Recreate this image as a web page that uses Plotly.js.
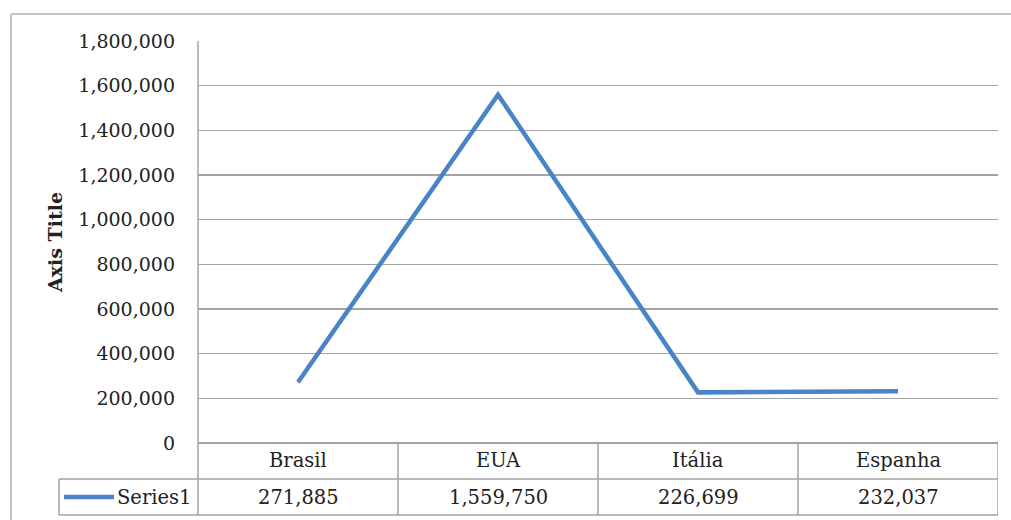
<!DOCTYPE html>
<html>
<head>
<meta charset="utf-8">
<script src="https://cdn.plot.ly/plotly-3.0.1.min.js"></script>
<style>html,body{margin:0;padding:0;background:#fff;}#chart{width:1011px;height:520px;}</style>
</head>
<body>
<div id="chart"></div>
<script>
var categories = ["Brasil", "EUA", "Itália", "Espanha"];
var seriesName = "Series1";
var values = [271885, 1559750, 226699, 232037];
var yTickVals = [0, 200000, 400000, 600000, 800000, 1000000, 1200000, 1400000, 1600000, 1800000];
var yTickText = ["0", "200,000", "400,000", "600,000", "800,000", "1,000,000", "1,200,000", "1,400,000", "1,600,000", "1,800,000"];
var yAxisTitle = "Axis Title";

var FONT = "DejaVu Serif, Liberation Serif, serif";
var lineColor = "#4a84c6";
var gridColor = "#a3a3a3";
var textColor = "#222222";

// pixel helpers (plot area: x 198..998, y 41..443)
var L = 198, R = 998, T = 41, B = 443;
function px(x){ return (x - L) / (R - L); }
function py(y){ return (B - y) / (B - T); }

var fmt = function(v){ return v.toLocaleString("en-US"); };
var idx = categories.map(function(_, i){ return i; });

var shapes = [];
var annotations = [];
var rowMid = py(479), rowBot = py(515);
var gw = 1.5;
// table horizontal lines
shapes.push({type:"line", xref:"paper", yref:"paper", x0:px(59), x1:1, y0:rowMid, y1:rowMid, line:{color:gridColor, width:gw}});
shapes.push({type:"line", xref:"paper", yref:"paper", x0:px(59), x1:1, y0:rowBot, y1:rowBot, line:{color:gridColor, width:gw}});
// table verticals
shapes.push({type:"line", xref:"paper", yref:"paper", x0:0, x1:0, y0:1, y1:rowBot, line:{color:gridColor, width:gw}});
shapes.push({type:"line", xref:"paper", yref:"paper", x0:px(59), x1:px(59), y0:rowMid, y1:rowBot, line:{color:gridColor, width:gw}});
for (var i = 0; i < categories.length; i++) {
  shapes.push({type:"line", xref:"x", yref:"paper", x0:i+0.5, x1:i+0.5, y0:0, y1:rowBot, line:{color:gridColor, width:gw}});
  annotations.push({xref:"x", yref:"paper", x:i, y:py(461), text:categories[i], showarrow:false, font:{family:FONT, size:19.5, color:textColor}, xanchor:"center", yanchor:"middle"});
  annotations.push({xref:"x", yref:"paper", x:i, y:py(497), text:fmt(values[i]), showarrow:false, font:{family:FONT, size:19.5, color:textColor}, xanchor:"center", yanchor:"middle"});
}
// legend key in table
shapes.push({type:"line", xref:"paper", yref:"paper", x0:px(64), x1:px(114), y0:py(497), y1:py(497), line:{color:lineColor, width:4.5}});
annotations.push({xref:"paper", yref:"paper", x:px(115), y:py(497), text:seriesName, showarrow:false, font:{family:FONT, size:19.5, color:textColor}, xanchor:"left", yanchor:"middle"});
// outer chart border
shapes.push({type:"line", xref:"paper", yref:"paper", x0:px(11), x1:px(1012), y0:py(14), y1:py(14), line:{color:"#c4c4c4", width:2}});
shapes.push({type:"line", xref:"paper", yref:"paper", x0:px(11), x1:px(11), y0:py(14), y1:py(522), line:{color:"#c4c4c4", width:2}});

var trace = {
  x: idx,
  y: values,
  type: "scatter",
  mode: "lines",
  name: seriesName,
  line: {color: lineColor, width: 4.5},
  hoverinfo: "y"
};

var layout = {
  width: 1011,
  height: 520,
  margin: {l: L, r: 1011 - R, t: T, b: 520 - B},
  paper_bgcolor: "#ffffff",
  plot_bgcolor: "#ffffff",
  showlegend: false,
  xaxis: {
    range: [-0.5, categories.length - 0.5],
    showticklabels: false,
    showgrid: false,
    zeroline: false,
    showline: false,
    ticks: "",
    fixedrange: true
  },
  yaxis: {
    range: [0, 1800000],
    tickvals: yTickVals,
    ticktext: yTickText,
    tickmode: "array",
    showgrid: true,
    gridcolor: gridColor,
    gridwidth: gw,
    zeroline: true,
    zerolinecolor: gridColor,
    zerolinewidth: gw,
    showline: false,
    ticks: "",
    ticklabelstandoff: 22,
    tickfont: {family: FONT, size: 19, color: textColor},
    title: {text: yAxisTitle, font: {family: FONT, size: 19, color: textColor, weight: "bold"}, standoff: 10},
    fixedrange: true
  },
  shapes: shapes,
  annotations: annotations
};

Plotly.newPlot("chart", [trace], layout, {displayModeBar: false, staticPlot: true});
</script>
</body>
</html>
